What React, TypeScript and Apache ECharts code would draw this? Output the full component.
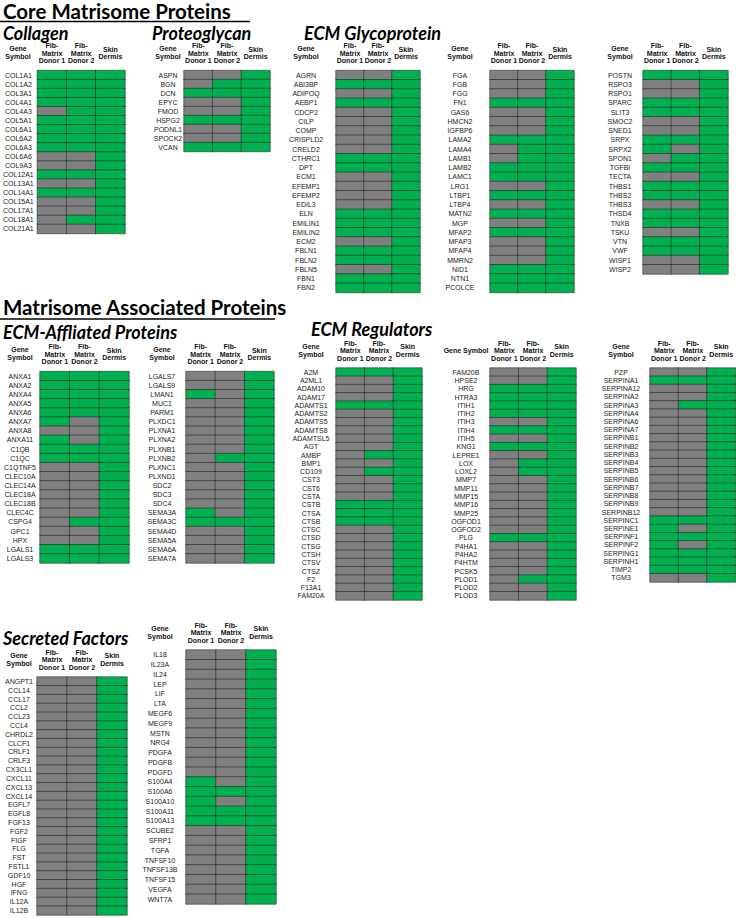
import React, { useEffect, useRef } from "react";
import * as echarts from "echarts";

const GREEN = "#00b050";
const GREY = "#808080";
const colHeaders = ["Fib-\nMatrix\nDonor 1", "Fib-\nMatrix\nDonor 2", "Skin\nDermis"];

// ---- Collagen
const collagenGenes = ["COL1A1","COL1A2","COL3A1","COL4A1","COL4A3","COL5A1","COL6A1","COL6A2","COL6A3","COL6A6","COL9A3","COL12A1","COL13A1","COL14A1","COL15A1","COL17A1","COL18A1","COL21A1"];
const collagenD1 = [1,1,1,1,0,1,1,1,1,0,0,1,0,1,0,0,0,0];
const collagenD2 = [1,1,1,1,1,1,1,1,1,0,0,1,0,1,0,0,1,0];
const collagenSkin = [1,1,1,1,1,1,1,1,1,1,1,1,1,1,1,1,1,1];

// ---- Proteoglycan
const proteoGenes = ["ASPN","BGN","DCN","EPYC","FMOD","HSPG2","PODNL1","SPOCK2","VCAN"];
const proteoD1 = [0,0,1,0,0,1,0,0,1];
const proteoD2 = [0,1,1,0,0,1,0,0,1];
const proteoSkin = [1,1,1,1,1,1,1,1,1];

// ---- ECM Glycoprotein (3 columns)
const glycoAGenes = ["AGRN","ABI3BP","ADIPOQ","AEBP1","CDCP2","CILP","COMP","CRISPLD2","CRELD2","CTHRC1","DPT","ECM1","EFEMP1","EFEMP2","EDIL3","ELN","EMILIN1","EMILIN2","ECM2","FBLN1","FBLN2","FBLN5","FBN1","FBN2"];
const glycoAD1 = [0,1,0,1,0,0,0,0,0,1,1,0,0,0,0,1,1,1,0,1,1,0,1,1];
const glycoAD2 = [0,1,0,1,0,0,0,0,0,1,1,0,0,0,0,1,1,1,0,1,1,0,1,1];
const glycoASkin = [1,1,1,1,1,1,1,1,1,1,1,1,1,1,1,1,1,1,1,1,1,1,1,1];

const glycoBGenes = ["FGA","FGB","FGG","FN1","GAS6","HMCN2","IGFBP6","LAMA2","LAMA4","LAMB1","LAMB2","LAMC1","LRG1","LTBP1","LTBP4","MATN2","MGP","MFAP2","MFAP3","MFAP4","MMRN2","NID1","NTN1","PCOLCE"];
const glycoBD1 = [0,0,0,1,0,0,0,1,0,0,1,1,0,1,0,1,0,1,0,0,0,1,1,1];
const glycoBD2 = [0,0,0,1,0,0,0,1,1,1,1,1,0,1,0,1,0,1,0,0,0,1,1,1];
const glycoBSkin = [1,1,1,1,1,1,1,1,1,1,1,1,1,1,1,1,1,1,1,1,1,1,1,1];

const glycoCGenes = ["POSTN","RSPO3","RSPO1","SPARC","SLIT3","SMOC2","SNED1","SRPX","SRPX2","SPON1","TGFBI","TECTA","THBS1","THBS2","THBS3","THSD4","TNXB","TSKU","VTN","VWF","WISP1","WISP2"];
const glycoCD1 = [1,0,0,1,1,0,0,1,1,0,1,0,1,1,0,1,1,0,1,1,0,0];
const glycoCD2 = [1,0,0,1,1,0,0,1,0,1,1,0,1,1,0,1,1,0,1,1,0,0];
const glycoCSkin = [1,1,1,1,1,1,1,1,1,1,1,1,1,1,1,1,1,1,1,1,1,1];

// ---- ECM-Affiliated Proteins
const affilAGenes = ["ANXA1","ANXA2","ANXA4","ANXA5","ANXA6","ANXA7","ANXA8","ANXA11","C1QB","C1QC","C1QTNF5","CLEC10A","CLEC14A","CLEC18A","CLEC18B","CLEC4C","CSPG4","GPC1","HPX","LGALS1","LGALS3"];
const affilAD1 = [1,1,1,1,1,1,0,1,1,1,0,0,0,0,0,0,0,0,0,1,1];
const affilAD2 = [1,1,1,1,1,0,0,0,1,1,0,0,0,0,0,0,1,0,0,1,1];
const affilASkin = [1,1,1,1,1,1,1,1,1,1,1,1,1,1,1,1,1,1,1,1,1];

const affilBGenes = ["LGALS7","LGALS9","LMAN1","MUC1","PARM1","PLXDC1","PLXNA1","PLXNA2","PLXNB1","PLXNB2","PLXNC1","PLXND1","SDC2","SDC3","SDC4","SEMA3A","SEMA3C","SEMA4D","SEMA5A","SEMA6A","SEMA7A"];
const affilBD1 = [0,0,1,0,0,0,0,0,0,0,0,0,0,0,0,1,1,0,0,0,0];
const affilBD2 = [0,0,0,0,0,0,0,0,0,1,0,0,0,0,0,0,1,0,0,0,0];
const affilBSkin = [1,1,1,1,1,1,1,1,1,1,1,1,1,1,1,1,1,1,1,1,1];

// ---- ECM Regulators
const regAGenes = ["A2M","A2ML1","ADAM10","ADAM17","ADAMTS1","ADAMTS2","ADAMTS5","ADAMTS8","ADAMTSL5","AGT","AMBP","BMP1","CD109","CST3","CST6","CSTA","CSTB","CTSA","CTSB","CTSC","CTSD","CTSG","CTSH","CTSV","CTSZ","F2","F13A1","FAM20A"];
const regAD1 = [1,0,0,0,1,0,0,0,0,0,0,0,0,0,0,0,1,1,1,0,0,0,0,0,0,0,0,0];
const regAD2 = [1,0,0,0,1,0,0,0,0,0,1,0,1,0,0,0,1,1,1,0,0,0,0,0,0,0,0,0];
const regASkin = [1,1,1,1,1,1,1,1,1,1,1,1,1,1,1,1,1,1,1,1,1,1,1,1,1,1,1,1];

const regBGenes = ["FAM20B","HPSE2","HRG","HTRA3","ITIH1","ITIH2","ITIH3","ITIH4","ITIH5","KNG1","LEPRE1","LOX","LOXL2","MMP7","MMP11","MMP15","MMP16","MMP25","OGFOD1","OGFOD2","PLG","P4HA1","P4HA2","P4HTM","PCSK5","PLOD1","PLOD2","PLOD3"];
const regBD1 = [0,0,1,1,1,1,0,1,0,1,0,0,0,0,0,0,0,0,0,0,1,0,0,0,0,0,0,0];
const regBD2 = [0,0,1,1,1,1,0,1,0,1,0,1,1,0,0,0,0,0,0,0,1,0,0,0,0,1,0,0];
const regBSkin = [1,1,1,1,1,1,1,1,1,1,1,1,1,1,1,1,1,1,1,1,1,1,1,1,1,1,1,1];

const regCGenes = ["PZP","SERPINA1","SERPINA12","SERPINA2","SERPINA3","SERPINA4","SERPINA6","SERPINA7","SERPINB1","SERPINB2","SERPINB3","SERPINB4","SERPINB5","SERPINB6","SERPINB7","SERPINB8","SERPINB9","SERPINB12","SERPINC1","SERPINE1","SERPINF1","SERPINF2","SERPING1","SERPINH1","TIMP2","TGM3"];
const regCD1 = [0,1,0,0,0,0,0,0,0,0,0,0,0,0,0,0,0,0,1,1,1,1,1,1,1,0];
const regCD2 = [0,1,0,0,1,0,0,0,0,0,0,0,0,0,0,0,0,0,1,0,1,0,1,1,1,0];
const regCSkin = [1,1,1,1,1,1,1,1,1,1,1,1,1,1,1,1,1,1,1,1,1,1,1,1,1,1];

// ---- Secreted Factors
const secAGenes = ["ANGPT1","CCL14","CCL17","CCL2","CCL23","CCL4","CHRDL2","CLCF1","CRLF1","CRLF3","CX3CL1","CXCL11","CXCL13","CXCL14","EGFL7","EGFL8","FGF13","FGF2","FIGF","FLG","FST","FSTL1","GDF10","HGF","IFNG","IL12A","IL12B"];
const secAD1 = [0,0,0,0,0,0,0,0,0,0,0,0,0,0,0,0,0,0,0,0,0,0,0,0,0,0,0];
const secAD2 = [0,0,0,0,0,0,0,0,0,0,0,0,0,0,0,0,0,0,0,0,0,0,0,0,0,0,0];
const secASkin = [1,1,1,1,1,1,1,1,1,1,1,1,1,1,1,1,1,1,1,1,1,1,1,1,1,1,1];

const secBGenes = ["IL18","IL23A","IL24","LEP","LIF","LTA","MEGF6","MEGF9","MSTN","NRG4","PDGFA","PDGFB","PDGFD","S100A4","S100A6","S100A10","S100A11","S100A13","SCUBE2","SFRP1","TGFA","TNFSF10","TNFSF13B","TNFSF15","VEGFA","WNT7A"];
const secBD1 = [0,0,0,0,0,0,0,0,0,0,0,0,0,1,1,1,1,1,0,0,0,0,0,0,0,0];
const secBD2 = [0,0,0,0,0,0,0,0,0,0,0,0,0,0,1,0,1,1,0,0,0,0,0,0,0,0];
const secBSkin = [1,1,1,1,1,1,1,1,1,1,1,1,1,1,1,1,1,1,1,1,1,1,1,1,1,1];

// layout of each table (pixel boxes)
const tables = [
  { genes: collagenGenes, cols: [collagenD1, collagenD2, collagenSkin], box: [37, 70.5, 88, 163], lx: 18, gs: "Gene\nSymbol" },
  { genes: proteoGenes, cols: [proteoD1, proteoD2, proteoSkin], box: [184, 70.5, 86, 81], lx: 168, gs: "Gene\nSymbol" },
  { genes: glycoAGenes, cols: [glycoAD1, glycoAD2, glycoASkin], box: [336, 70.5, 84, 222], lx: 306, gs: "Gene\nSymbol" },
  { genes: glycoBGenes, cols: [glycoBD1, glycoBD2, glycoBSkin], box: [490, 70.5, 84, 222], lx: 460, gs: "Gene\nSymbol" },
  { genes: glycoCGenes, cols: [glycoCD1, glycoCD2, glycoCSkin], box: [643, 70.5, 85, 203.5], lx: 620, gs: "Gene\nSymbol" },
  { genes: affilAGenes, cols: [affilAD1, affilAD2, affilASkin], box: [40, 371.5, 89, 191.5], lx: 20, gs: "Gene\nSymbol" },
  { genes: affilBGenes, cols: [affilBD1, affilBD2, affilBSkin], box: [186, 371.5, 88, 191.5], lx: 162, gs: "Gene\nSymbol" },
  { genes: regAGenes, cols: [regAD1, regAD2, regASkin], box: [336, 368, 86, 232], lx: 311, gs: "Gene\nSymbol" },
  { genes: regBGenes, cols: [regBD1, regBD2, regBSkin], box: [490, 368, 86, 232], lx: 466, gs: "Gene Symbol" },
  { genes: regCGenes, cols: [regCD1, regCD2, regCSkin], box: [650, 368, 86, 214], lx: 621, gs: "Gene\nSymbol" },
  { genes: secAGenes, cols: [secAD1, secAD2, secASkin], box: [37, 677, 90, 238], lx: 19, gs: "Gene\nSymbol" },
  { genes: secBGenes, cols: [secBD1, secBD2, secBSkin], box: [186, 650, 90, 254], lx: 160, gs: "Gene\nSymbol" },
];

const TITLE_FONT = "Lato";
const LABEL_FONT = "Liberation Sans";

export default function App() {
  const ref = useRef<HTMLDivElement>(null);
  useEffect(() => {
    document.body.style.margin = "0";
    const chart = echarts.init(ref.current!, null, { renderer: "svg" });
    const graphics: any[] = [];
    const heading = (text: string, x: number, y: number, size: number, italic: boolean) =>
      graphics.push({
        type: "text", x, y,
        style: { text, fill: "#000", font: `${italic ? "italic " : ""}bold ${size}px ${TITLE_FONT}`, lineHeight: size - 2, verticalAlign: "top" },
      });
    heading("Core Matrisome Proteins", 3, 2, 20.5, false);
    graphics.push({ type: "line", shape: { x1: 0, y1: 21.5, x2: 250, y2: 21.5 }, style: { stroke: "#000", lineWidth: 1.5 } });
    heading("Collagen", 3, 24.5, 18, true);
    heading("Proteoglycan", 152, 24.5, 18, true);
    heading("ECM Glycoprotein", 304, 24.5, 18, true);
    heading("Matrisome Associated Proteins", 3, 297.5, 20.5, false);
    graphics.push({ type: "line", shape: { x1: 0, y1: 319, x2: 275, y2: 319 }, style: { stroke: "#000", lineWidth: 1.5 } });
    heading("ECM-Affliated Proteins", 3, 324, 18, true);
    heading("ECM Regulators", 311, 321, 18, true);
    heading("Secreted Factors", 3, 630, 18, true);
    tables.forEach((t) => {
      graphics.push({
        type: "text", x: t.lx, y: t.box[1] - 18,
        style: { text: t.gs, fill: "#111", font: `bold 7px ${LABEL_FONT}`, lineHeight: 8, align: "center", verticalAlign: "middle" },
      });
    });

    const option: any = {
      animation: false,
      backgroundColor: "#fff",
      grid: tables.map((t) => ({ left: t.box[0], top: t.box[1], width: t.box[2], height: t.box[3], containLabel: false })),
      xAxis: tables.map((t, i) => ({
        type: "category", gridIndex: i, data: colHeaders, position: "top",
        axisLine: { show: false }, axisTick: { show: false }, splitLine: { show: false },
        axisLabel: { interval: 0, fontSize: 7, fontWeight: "bold", fontFamily: LABEL_FONT, lineHeight: 7.5, color: "#111", verticalAlign: "middle", margin: 17.5 },
      })),
      yAxis: tables.map((t, i) => ({
        type: "category", gridIndex: i, data: t.genes, inverse: true,
        axisLine: { show: false }, axisTick: { show: false }, splitLine: { show: false },
        axisLabel: { interval: 0, fontSize: 7, fontFamily: LABEL_FONT, color: "#222", align: "center", margin: t.box[0] - t.lx },
      })),
      visualMap: {
        type: "piecewise", show: false, dimension: 2,
        seriesIndex: tables.map((_, i) => i),
        pieces: [{ value: 0, color: GREY }, { value: 1, color: GREEN }],
      },
      series: tables.map((t, i) => ({
        type: "heatmap", xAxisIndex: i, yAxisIndex: i,
        data: t.genes.flatMap((_, r) => t.cols.map((c, ci) => [ci, r, c[r]])),
        itemStyle: { borderColor: "#1a1a1a", borderWidth: 0.5 },
        emphasis: { disabled: true },
      })),
      graphic: graphics,
    };
    chart.setOption(option);
    return () => chart.dispose();
  }, []);
  return <div ref={ref} style={{ width: 736, height: 918 }} />;
}
